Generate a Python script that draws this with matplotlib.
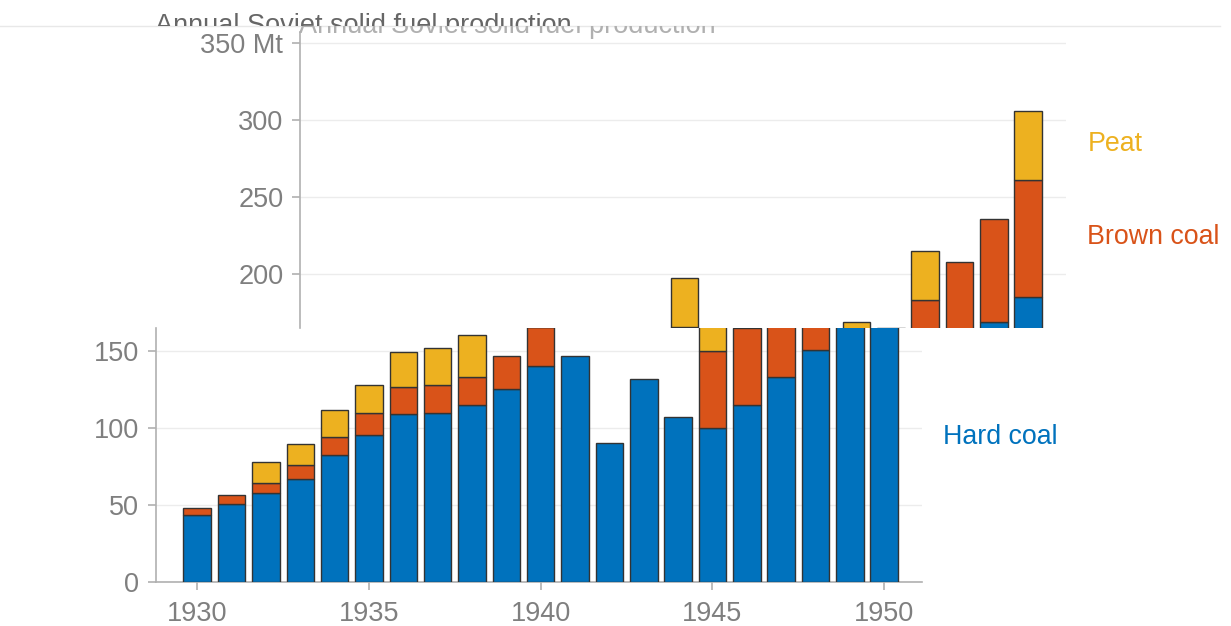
import numpy as np
import matplotlib.pyplot as plt
from matplotlib.transforms import Bbox
from matplotlib.lines import Line2D

# ---------------- DATA (Mt) ----------------
years = np.arange(1930, 1951)
hard = np.array([43, 50.5, 57.3, 67, 82.5, 95.3, 109.3, 109.8, 115, 125, 140,
                 147, 90, 131.5, 107, 100, 115, 133, 150.5, 169, 185])
brown = np.array([5, 6, 6.7, 9, 11.5, 14.7, 17.6, 18.4, 18.4, 21.5, 25.7,
                  0, 0, 0, 0, 50, 50, 50, 57.5, 66.5, 76])
peat = np.array([0, 0, 13.9, 13.5, 17.5, 18.2, 22.8, 24.1, 26.9, 0, 31.8,
                 0, 0, 0, 0, 19, 0, 32, 0, 0, 44.5])

title = "Annual Soviet solid fuel production"
c_hard, c_brown, c_peat = "#0072BD", "#D95319", "#EDB120"
grey = "#7f7f7f"

plt.rcParams['font.family'] = ['Liberation Sans', 'DejaVu Sans']

W, H = 1231, 626
fig = plt.figure(figsize=(W / 100, H / 100), dpi=100)


def px_rect(x0, y0, x1, y1):
    # image pixel box (top-left origin) -> figure fraction rect
    return [x0 / W, 1 - y1 / H, (x1 - x0) / W, (y1 - y0) / H]


def draw(ax):
    kw = dict(width=0.8, edgecolor="#333333", linewidth=1.0, zorder=3)
    ax.bar(years, hard, color=c_hard, **kw)
    m = brown > 0
    ax.bar(years[m], brown[m], bottom=hard[m], color=c_brown, **kw)
    m = peat > 0
    ax.bar(years[m], peat[m], bottom=(hard + brown)[m], color=c_peat, **kw)
    ax.set_xlim(1928.8, 1951.1)
    ax.yaxis.grid(True, color="#ececec", lw=1)
    ax.set_axisbelow(True)
    for s in ["top", "right"]:
        ax.spines[s].set_visible(False)
    ax.spines["left"].set_color("#b0b0b0")
    ax.spines["left"].set_linewidth(1.2)
    ax.tick_params(axis="both", colors="#b0b0b0", labelcolor=grey,
                   labelsize=19.5, length=6, width=1.2, pad=6)


# lower (unshifted) part
ax_lo = fig.add_axes(px_rect(156, 328, 922, 581.5))
draw(ax_lo)
ax_lo.set_ylim(0, 165)
ax_lo.set_yticks([0, 50, 100, 150])
ax_lo.set_xticks([1930, 1935, 1940, 1945, 1950])
ax_lo.spines["bottom"].set_color("#b0b0b0")
ax_lo.spines["bottom"].set_linewidth(1.2)
ax_lo.tick_params(axis="x", pad=8)
ax_lo.text(1951.72, 94, "Hard coal", color=c_hard, fontsize=19.3,
           va="center", ha="left", clip_on=False)

# upper part, displaced to the right
ax_hi = fig.add_axes(px_rect(300, 32, 1066, 328))
draw(ax_hi)
ax_hi.set_ylim(165, 357)
ax_hi.set_yticks([200, 250, 300, 350])
ax_hi.set_yticklabels(["200", "250", "300", "350 Mt"])
ax_hi.spines["bottom"].set_visible(False)
ax_hi.set_xticks([])
ax_hi.text(1951.72, 284.5, "Peat", color=c_peat, fontsize=19.3,
           va="center", ha="left", clip_on=False)
ax_hi.text(1951.72, 224, "Brown coal", color=c_brown, fontsize=19.3,
           va="center", ha="left", clip_on=False)

# title, torn at the same seam
t1 = fig.text(155 / W, 1 - 33 / H, title, fontsize=19.5, color="#666666",
              va="baseline", ha="left")
t1.set_clip_box(Bbox.from_extents(0, H - 26, W, H))
t1.set_clip_on(True)
t2 = fig.text(299 / W, 1 - 33 / H, title, fontsize=19.5, color="#b0b0b0",
              va="baseline", ha="left")
t2.set_clip_box(Bbox.from_extents(0, H - 328, W, H - 26))
t2.set_clip_on(True)
fig.add_artist(Line2D([0, 1220 / W], [1 - 25.7 / H] * 2, color="#e8e8e8", lw=1))

fig.savefig("out.png", dpi=100)
